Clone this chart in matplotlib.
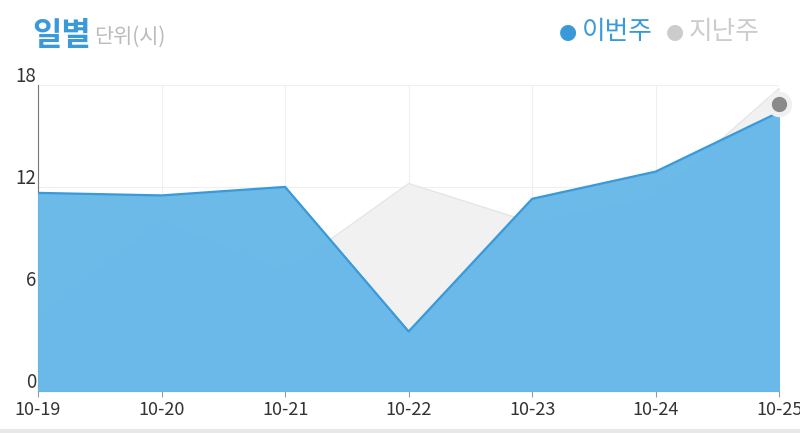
import matplotlib.pyplot as plt
import numpy as np

plt.rcParams['font.family'] = ['Noto Sans CJK KR', 'DejaVu Sans']

# daily hours, this week vs last week
days = ['10-19', '10-20', '10-21', '10-22', '10-23', '10-24', '10-25']
this_week = [11.65, 11.5, 12.0, 3.5, 11.3, 12.9, 16.4]
last_week = [4.3, 10.0, 7.0, 12.2, 9.9, 11.4, 17.8]
y_ticks = [0, 6, 12, 18]

blue = '#3a9ad9'
blue_fill = '#67b8e8'
grey_fill = '#f1f1f1'

fig = plt.figure(figsize=(8, 4.33), dpi=100)
ax = fig.add_axes([0.0475, 0.097, 0.9265, 0.707])

x = np.arange(len(days))

# last week drawn behind, this week on top
ax.fill_between(x, last_week, color=grey_fill, zorder=2)
ax.plot(x, last_week, color='#e6e6e6', lw=1, zorder=2)
ax.fill_between(x, this_week, color=blue_fill, alpha=0.97, zorder=3)
ax.plot(x, this_week, color=blue, lw=1.6, zorder=4)

# hover marker on the last point
ax.scatter([x[-1]], [this_week[-1] + 0.5], s=300, color='#f0f0f0', zorder=5, clip_on=False)
ax.scatter([x[-1]], [this_week[-1] + 0.5], s=100, color='#8a8a8a', zorder=6, clip_on=False)

ax.set_xlim(0, len(days) - 1)
ax.set_ylim(0, 18)
ax.set_xticks(x)
ax.set_xticklabels(days, fontsize=13, color='#333333')
ax.set_yticks(y_ticks)
ax.set_yticklabels([])
for v in y_ticks:
    ax.text(-0.002, v - 0.1, str(v), transform=ax.get_yaxis_transform(), ha='right', va='bottom',
            fontsize=13.5, color='#333333')

ax.grid(True, color='#efefef', lw=0.8, zorder=1)
ax.set_axisbelow(True)
for s in ['top', 'right']:
    ax.spines[s].set_visible(False)
ax.spines['left'].set_color('#777777')
ax.spines['bottom'].set_color('#777777')
ax.tick_params(axis='y', length=0)
ax.tick_params(axis='x', length=4, color='#999999', pad=3)

# header
fig.text(0.04, 0.917, '일별', fontsize=23, fontweight='bold', color=blue, va='center')
fig.text(0.118, 0.915, '단위(시)', fontsize=15, color='#bbbbbb', va='center')

# legend
fig.text(0.698, 0.925, '●', fontsize=15, color=blue, va='center', family=['DejaVu Sans'])
fig.text(0.727, 0.925, '이번주', fontsize=18.5, color=blue, va='center')
fig.text(0.832, 0.925, '●', fontsize=15, color='#cccccc', va='center', family=['DejaVu Sans'])
fig.text(0.861, 0.925, '지난주', fontsize=18.5, color='#cccccc', va='center')

# thin separator at the bottom
fig.add_artist(plt.Line2D([0, 1], [0.004, 0.004], color='#e8e8e8', lw=3))

fig.savefig('out.png', dpi=100)
